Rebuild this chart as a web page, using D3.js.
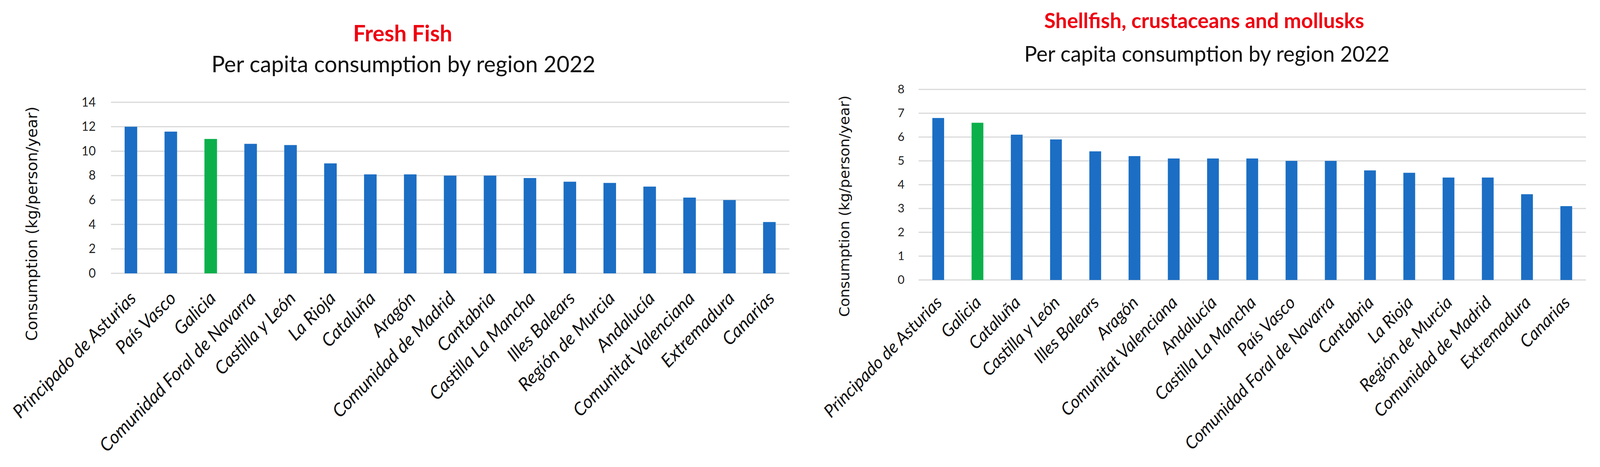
<!DOCTYPE html>
<html>
<head>
<meta charset="utf-8">
<script src="https://cdn.jsdelivr.net/npm/d3@7"></script>
<style>
  html, body { margin: 0; padding: 0; background: #ffffff; overflow: hidden; }
  svg { display: block; width: 100vw; height: 100vh; }
</style>
</head>
<body>
<svg id="chart" viewBox="0 0 4196 1196" preserveAspectRatio="none"></svg>
<script>
// ---------------- DATA ----------------
const fishRegions = [
  "Principado de Asturias", "País Vasco", "Galicia", "Comunidad Foral de Navarra",
  "Castilla y León", "La Rioja", "Cataluña", "Aragón", "Comunidad de Madrid",
  "Cantabria", "Castilla La Mancha", "Illes Balears", "Región de Murcia",
  "Andalucía", "Comunitat Valenciana", "Extremadura", "Canarias"
];
const fishValues = [12.0, 11.6, 11.0, 10.6, 10.5, 9.0, 8.1, 8.1, 8.0, 8.0, 7.8, 7.5, 7.4, 7.1, 6.2, 6.0, 4.2];
const fishTicks = [0, 2, 4, 6, 8, 10, 12, 14];

const shellRegions = [
  "Principado de Asturias", "Galicia", "Cataluña", "Castilla y León", "Illes Balears",
  "Aragón", "Comunitat Valenciana", "Andalucía", "Castilla La Mancha", "País Vasco",
  "Comunidad Foral de Navarra", "Cantabria", "La Rioja", "Región de Murcia",
  "Comunidad de Madrid", "Extremadura", "Canarias"
];
const shellValues = [6.8, 6.6, 6.1, 5.9, 5.4, 5.2, 5.1, 5.1, 5.1, 5.0, 5.0, 4.6, 4.5, 4.3, 4.3, 3.6, 3.1];
const shellTicks = [0, 1, 2, 3, 4, 5, 6, 7, 8];

const highlightRegion = "Galicia";
const titles = ["Fresh Fish", "Shellfish, crustaceans and mollusks"];
const subtitle = "Per capita consumption by region 2022";
const yAxisTitle = "Consumption (kg/person/year)";

// ---------------- STYLE ----------------
const BLUE = "#1b6ec4";
const GREEN = "#0bb04b";
const RED = "#ee0010";
const GRID = "#d9d9d9";
const SANS = "Lato, 'Open Sans', sans-serif";
const WIDE = "'DejaVu Sans', Verdana, sans-serif";

const svg = d3.select("#chart");

// set the font size of a text so that its rendered length equals target
function fitFont(sel, base, target) {
  sel.attr("font-size", base);
  const len = sel.node().getComputedTextLength();
  const size = len > 0 ? base * target / len : base;
  sel.attr("font-size", size);
  return size;
}

function drawChart(cfg) {
  const g = svg.append("g");
  const x = d3.scaleBand()
    .domain(cfg.regions)
    .range([cfg.left, cfg.right])
    .paddingInner(cfg.pad)
    .paddingOuter(cfg.pad / 2);
  const y = d3.scaleLinear()
    .domain([0, d3.max(cfg.ticks)])
    .range([cfg.bottom, cfg.top]);

  // gridlines
  g.append("g").selectAll("line")
    .data(cfg.ticks)
    .join("line")
    .attr("x1", cfg.left)
    .attr("x2", cfg.right)
    .attr("y1", d => y(d))
    .attr("y2", d => y(d))
    .attr("stroke", GRID)
    .attr("stroke-width", 3);

  // bars
  g.append("g").selectAll("rect")
    .data(cfg.regions.map((r, i) => ({ r, v: cfg.values[i] })))
    .join("rect")
    .attr("x", d => x(d.r))
    .attr("width", x.bandwidth())
    .attr("y", d => y(d.v))
    .attr("height", d => y(0) - y(d.v))
    .attr("fill", d => d.r === highlightRegion ? GREEN : BLUE);

  // y axis labels
  const ya = g.append("g")
    .attr("transform", `translate(${cfg.left},0)`)
    .call(d3.axisLeft(y).tickValues(cfg.ticks).tickSize(0).tickPadding(cfg.tickPad).tickFormat(d3.format("d")));
  ya.select(".domain").remove();
  ya.selectAll("text")
    .attr("font-family", SANS)
    .attr("font-size", cfg.tickFont)
    .attr("fill", "#222");

  // x axis labels
  const xa = g.append("g")
    .attr("transform", `translate(0,${cfg.bottom})`)
    .call(d3.axisBottom(x).tickSize(0));
  xa.select(".domain").remove();
  const lbl = xa.selectAll("text")
    .attr("y", 0)
    .attr("dy", 0)
    .attr("text-anchor", "end")
    .attr("font-family", SANS)
    .attr("font-style", "italic")
    .attr("fill", "#111");
  const first = xa.select(".tick text");
  const lsize = fitFont(first, 40, cfg.lblLen);
  lbl.attr("font-size", lsize)
    .attr("transform", `translate(${cfg.lblEx + 0.375 * lsize},${cfg.lblEy + 0.02 * lsize}) rotate(-45)`);

  // y axis title
  const yt = g.append("text")
    .attr("transform", `translate(${cfg.ytX},${cfg.ytY}) rotate(-90)`)
    .attr("text-anchor", "middle")
    .attr("dominant-baseline", "central")
    .attr("font-family", WIDE)
    .attr("fill", "#111")
    .text(yAxisTitle);
  fitFont(yt, 36, cfg.ytLen);

  // titles
  const t1 = g.append("text")
    .attr("x", cfg.titleX)
    .attr("y", cfg.titleY)
    .attr("text-anchor", "middle")
    .attr("font-family", SANS)
    .attr("font-weight", "bold")
    .attr("fill", RED)
    .text(cfg.title);
  fitFont(t1, 50, cfg.titleLen);
  const t2 = g.append("text")
    .attr("x", cfg.subX)
    .attr("y", cfg.subY)
    .attr("text-anchor", "middle")
    .attr("font-family", SANS)
    .attr("fill", "#111")
    .text(subtitle);
  fitFont(t2, 50, cfg.subLen);
}

drawChart({
  regions: fishRegions, values: fishValues, ticks: fishTicks, title: titles[0],
  left: 291, right: 2070, top: 262, bottom: 700, pad: 0.685,
  tickPad: 40, tickFont: 32,
  lblLen: 434, lblEx: -1, lblEy: 66,
  ytX: 84, ytY: 573, ytLen: 600,
  titleX: 1056, titleY: 106, titleLen: 260,
  subX: 1058, subY: 185, subLen: 1007
});

drawChart({
  regions: shellRegions, values: shellValues, ticks: shellTicks, title: titles[1],
  left: 2409, right: 4159, top: 229, bottom: 717, pad: 0.70,
  tickPad: 37, tickFont: 31,
  lblLen: 416, lblEx: -4, lblEy: 60,
  ytX: 2214, ytY: 528, ytLen: 567,
  titleX: 3158, titleY: 72, titleLen: 839,
  subX: 3165, subY: 158, subLen: 958
});
</script>
</body>
</html>
